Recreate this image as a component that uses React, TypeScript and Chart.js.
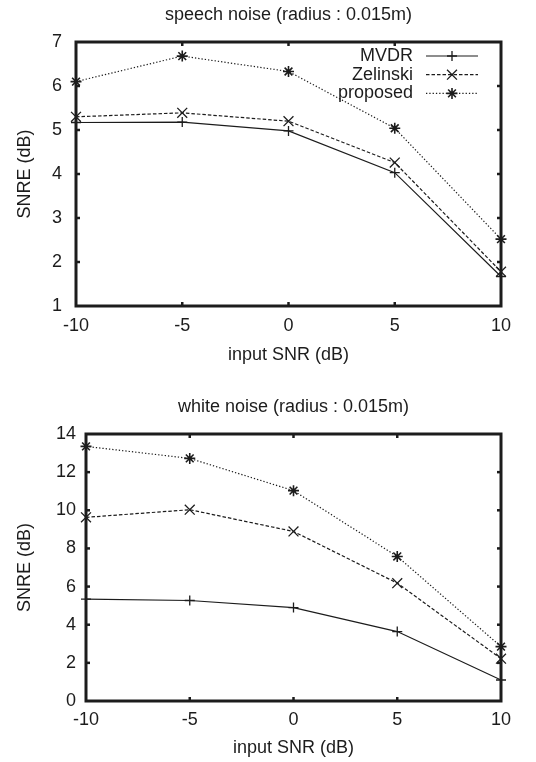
import React, { useEffect, useRef } from 'react';
import { Chart, registerables } from 'chart.js';
import { drawPoint } from 'chart.js/helpers';

Chart.register(...registerables);

// ---------- data ----------
const xValues = [-10, -5, 0, 5, 10];
const xTicks = [-10, -5, 0, 5, 10];
const seriesNames = ['MVDR', 'Zelinski', 'proposed'];

const speechMVDR = [5.17, 5.18, 4.98, 4.03, 1.67];
const speechZelinski = [5.3, 5.39, 5.2, 4.26, 1.78];
const speechProposed = [6.1, 6.68, 6.33, 5.04, 2.52];
const speechYTicks = [1, 2, 3, 4, 5, 6, 7];

const whiteMVDR = [5.34, 5.27, 4.9, 3.64, 1.1];
const whiteZelinski = [9.63, 10.03, 8.89, 6.18, 2.22];
const whiteProposed = [13.35, 12.72, 11.03, 7.58, 2.85];
const whiteYTicks = [0, 2, 4, 6, 8, 10, 12, 14];

const speechTitle = 'speech noise (radius : 0.015m)';
const whiteTitle = 'white noise (radius : 0.015m)';
const xTitle = 'input SNR (dB)';
const yTitle = 'SNRE (dB)';

// ---------- styles ----------
const INK = '#1c1c1c';
const FONT = "'Liberation Sans', Arial, Helvetica, sans-serif";
const FS = 18;

const seriesStyles = [
  { pointStyle: 'cross', pointRadius: 5, borderDash: [] as number[] },
  { pointStyle: 'crossRot', pointRadius: 7, borderDash: [3.5, 2] },
  { pointStyle: 'star', pointRadius: 5.5, borderDash: [1.3, 2] },
];

function makeDatasets(series: number[][]) {
  return series.map((vals, i) => ({
    label: seriesNames[i],
    data: vals.map((v, j) => ({ x: xValues[j], y: v })),
    borderColor: INK,
    backgroundColor: INK,
    borderWidth: 1.2,
    borderDash: seriesStyles[i].borderDash,
    pointStyle: seriesStyles[i].pointStyle,
    pointRadius: seriesStyles[i].pointRadius,
    pointBorderWidth: i === 2 ? 1.6 : 1.3,
    pointBorderColor: INK,
    pointBackgroundColor: INK,
    tension: 0,
    clip: false as any,
  }));
}

const framePlugin = {
  id: 'gnuFrame',
  afterDatasetsDraw(chart: any) {
    const { ctx, chartArea, scales } = chart;
    const { left, right, top, bottom } = chartArea;
    const tl = 4;
    ctx.save();
    ctx.setLineDash([]);
    ctx.strokeStyle = INK;
    ctx.lineWidth = 2.5;
    const seg = (x1: number, y1: number, x2: number, y2: number) => {
      ctx.beginPath();
      ctx.moveTo(x1, y1);
      ctx.lineTo(x2, y2);
      ctx.stroke();
    };
    scales.x.ticks.forEach((t: any) => {
      const px = scales.x.getPixelForValue(t.value);
      if (px <= left + 2 || px >= right - 2) return;
      seg(px, bottom, px, bottom - tl);
      seg(px, top, px, top + tl);
    });
    scales.y.ticks.forEach((t: any) => {
      const py = scales.y.getPixelForValue(t.value);
      if (py <= top + 2 || py >= bottom - 2) return;
      seg(left, py, left + tl, py);
      seg(right, py, right - tl, py);
    });
    ctx.lineWidth = 3;
    ctx.strokeRect(left, top, right - left, bottom - top);
    ctx.restore();
  },
};

// title centred over the plot area (gnuplot style)
const plotTitlePlugin = {
  id: 'plotTitle',
  afterDraw(chart: any, _args: any, opts: any) {
    if (!opts || !opts.text) return;
    const { ctx, chartArea } = chart;
    ctx.save();
    ctx.font = `${FS}px ${FONT}`;
    ctx.fillStyle = INK;
    ctx.textAlign = 'center';
    ctx.textBaseline = 'middle';
    ctx.fillText(opts.text, (chartArea.left + chartArea.right) / 2, opts.y);
    ctx.restore();
  },
};

const insideLegendPlugin = {
  id: 'insideLegend',
  afterDraw(chart: any, _args: any, opts: any) {
    if (!opts || !opts.show) return;
    const { ctx } = chart;
    const textRight = opts.textRight;
    const x1 = opts.lineStart;
    const x2 = opts.lineEnd;
    ctx.save();
    ctx.font = `${FS}px ${FONT}`;
    ctx.fillStyle = INK;
    ctx.textAlign = 'right';
    ctx.textBaseline = 'middle';
    chart.data.datasets.forEach((ds: any, i: number) => {
      const y = opts.firstY + i * opts.rowGap;
      ctx.fillText(ds.label, textRight, y);
      ctx.strokeStyle = INK;
      ctx.lineWidth = ds.borderWidth;
      ctx.setLineDash(ds.borderDash || []);
      ctx.beginPath();
      ctx.moveTo(x1, y);
      ctx.lineTo(x2, y);
      ctx.stroke();
      ctx.setLineDash([]);
      ctx.lineWidth = ds.pointBorderWidth;
      drawPoint(ctx, { pointStyle: ds.pointStyle, radius: ds.pointRadius, borderWidth: ds.pointBorderWidth, rotation: 0 } as any, (x1 + x2) / 2, y);
    });
    ctx.restore();
  },
};

interface ChartParams {
  title: string;
  series: number[][];
  yTicks: number[];
  titleY: number;
  plotTop: number;
  yWidth: number;
  yTickPad: number;
  xHeight: number;
  xTickPad: number;
  xTitlePadBottom: number;
  legend: boolean;
}

function buildConfig(p: ChartParams): any {
  const ymin = p.yTicks[0];
  const ymax = p.yTicks[p.yTicks.length - 1];
  return {
    type: 'line',
    data: { datasets: makeDatasets(p.series) },
    plugins: [framePlugin, plotTitlePlugin, insideLegendPlugin],
    options: {
      animation: false,
      responsive: false,
      maintainAspectRatio: false,
      layout: { padding: { left: 0, right: 35, top: p.plotTop, bottom: 0 } },
      plugins: {
        legend: { display: false },
        tooltip: { enabled: false },
        title: { display: false },
        plotTitle: { text: p.title, y: p.titleY },
        insideLegend: {
          show: p.legend,
          textRight: 413,
          lineStart: 426,
          lineEnd: 478,
          firstY: 56,
          rowGap: 18.7,
        },
      },
      scales: {
        x: {
          type: 'linear',
          min: xTicks[0],
          max: xTicks[xTicks.length - 1],
          afterBuildTicks: (s: any) => {
            s.ticks = xTicks.map((v) => ({ value: v }));
          },
          afterFit: (s: any) => {
            s.height = p.xHeight;
          },
          grid: { display: false, drawTicks: false, tickLength: 0 },
          border: { display: false },
          ticks: {
            color: INK,
            font: { family: FONT, size: FS },
            padding: p.xTickPad,
            maxRotation: 0,
            autoSkip: false,
          },
          title: {
            display: true,
            text: xTitle,
            color: INK,
            font: { family: FONT, size: FS },
            padding: { top: 0, bottom: p.xTitlePadBottom },
          },
        },
        y: {
          type: 'linear',
          min: ymin,
          max: ymax,
          afterBuildTicks: (s: any) => {
            s.ticks = p.yTicks.map((v) => ({ value: v }));
          },
          afterFit: (s: any) => {
            s.width = p.yWidth;
          },
          grid: { display: false, drawTicks: false, tickLength: 0 },
          border: { display: false },
          ticks: {
            color: INK,
            font: { family: FONT, size: FS },
            padding: p.yTickPad,
            autoSkip: false,
          },
          title: {
            display: true,
            text: yTitle,
            color: INK,
            font: { family: FONT, size: FS },
            padding: { top: 14.2, bottom: 0 },
          },
        },
      },
    },
  };
}

function GnuChart({ params, top }: { params: ChartParams; top: number }) {
  const ref = useRef<HTMLCanvasElement | null>(null);
  useEffect(() => {
    if (!ref.current) return;
    const chart = new Chart(ref.current, buildConfig(params));
    return () => chart.destroy();
  }, [params]);
  return (
    <div style={{ position: 'absolute', left: 0, top, width: 536, height: 381 }}>
      <canvas ref={ref} width={536} height={381} style={{ display: 'block', width: 536, height: 381 }} />
    </div>
  );
}

const speechParams: ChartParams = {
  title: speechTitle,
  series: [speechMVDR, speechZelinski, speechProposed],
  yTicks: speechYTicks,
  titleY: 15,
  plotTop: 42,
  yWidth: 76,
  yTickPad: 14,
  xHeight: 75,
  xTickPad: 9.2,
  xTitlePadBottom: 15.2,
  legend: true,
};

const whiteParams: ChartParams = {
  title: whiteTitle,
  series: [whiteMVDR, whiteZelinski, whiteProposed],
  yTicks: whiteYTicks,
  titleY: 26,
  plotTop: 53,
  yWidth: 86,
  yTickPad: 10,
  xHeight: 61,
  xTickPad: 8.2,
  xTitlePadBottom: 2.9,
  legend: false,
};

export default function App() {
  useEffect(() => {
    document.body.style.margin = '0';
  }, []);
  return (
    <div style={{ position: 'relative', width: 536, height: 762, background: '#fff' }}>
      <GnuChart params={speechParams} top={0} />
      <GnuChart params={whiteParams} top={381} />
    </div>
  );
}
